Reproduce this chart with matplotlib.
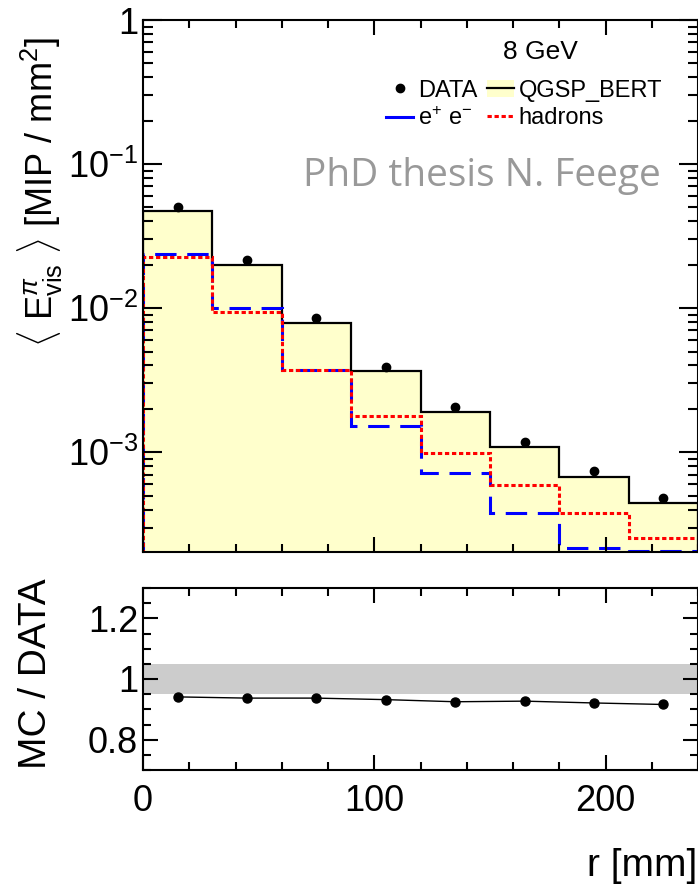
import numpy as np
import matplotlib
matplotlib.use("Agg")
import matplotlib.pyplot as plt
from matplotlib.lines import Line2D
from matplotlib.patches import Patch
from matplotlib.ticker import MultipleLocator, LogLocator, FuncFormatter, NullFormatter

plt.rcParams['font.family'] = ['Liberation Sans', 'DejaVu Sans']
plt.rcParams['mathtext.fontset'] = 'custom'
plt.rcParams['mathtext.rm'] = 'Liberation Sans'
plt.rcParams['mathtext.it'] = 'Liberation Sans:italic'

# radial bins [mm]
bin_edges = [0, 30, 60, 90, 120, 150, 180, 210, 240]
bin_centers = [15, 45, 75, 105, 135, 165, 195, 225]

# <E_vis> [MIP / mm^2], 8 GeV pions
data_vals = [0.0503, 0.0216, 0.00857, 0.00392, 0.00205, 0.00118, 0.000741, 0.000485]
qgsp_total = [0.0472, 0.0200, 0.00786, 0.00365, 0.00189, 0.00108, 0.000676, 0.000444]
qgsp_em = [0.0239, 0.0100, 0.00375, 0.00153, 0.000718, 0.000381, 0.000217, 0.000206]
qgsp_had = [0.0225, 0.00938, 0.00375, 0.00179, 0.000984, 0.000591, 0.000381, 0.000255]

# MC / DATA
ratio_vals = [0.941, 0.937, 0.937, 0.932, 0.925, 0.927, 0.921, 0.916]
band_lo, band_hi = 0.95, 1.05

W, H = 698, 893
fig = plt.figure(figsize=(W / 100, H / 100), dpi=100)
ax1 = fig.add_axes([143 / W, 1 - 552 / H, 555 / W, 532 / H])
ax2 = fig.add_axes([143 / W, 1 - 770 / H, 555 / W, 182 / H])

ymin = 2.03e-4
base = 1e-6

# top panel
ax1.stairs(qgsp_total, bin_edges, baseline=base, fill=True, color='#ffffcc', lw=0)
ax1.stairs(qgsp_total, bin_edges, baseline=base, color='black', lw=1.6)
ax1.stairs(qgsp_em, bin_edges, baseline=base, color='#0000ff', lw=2.2,
           linestyle=(0, (7, 3.5)))
ax1.stairs(qgsp_had, bin_edges, baseline=base, color='#ff0000', lw=2.2,
           linestyle=(0, (1.4, 0.9)))
ax1.plot(bin_centers, data_vals, 'o', color='black', ms=6)

ax1.set_yscale('log')
ax1.set_xlim(0, 240)
ax1.set_ylim(ymin, 1)
ax1.yaxis.set_major_locator(LogLocator(base=10, numticks=10))
ax1.yaxis.set_minor_locator(LogLocator(base=10, subs=np.arange(2, 10), numticks=20))
ax1.yaxis.set_major_formatter(FuncFormatter(
    lambda v, p: '1' if abs(v - 1) < 1e-9 else r'$10^{%d}$' % round(np.log10(v))))
ax1.yaxis.set_minor_formatter(NullFormatter())
ax1.xaxis.set_major_locator(MultipleLocator(100))
ax1.xaxis.set_minor_locator(MultipleLocator(20))
ax1.tick_params(axis='x', labelbottom=False)

h_data = Line2D([], [], marker='o', ls='none', color='black', ms=6)
h_mc = (Patch(facecolor='#ffffcc', edgecolor='none'), Line2D([], [], color='black', lw=1.6))
h_em = Line2D([], [], color='#0000ff', lw=2.2)
h_had = Line2D([], [], color='#ff0000', lw=2.2, linestyle=(0, (1.4, 0.9)))
ax1.legend([h_data, h_em, h_mc, h_had],
           ['DATA', r'e$^{+}$ e$^{-}$', 'QGSP_BERT', 'hadrons'],
           ncol=2, frameon=False, fontsize=17, loc='upper left',
           bbox_to_anchor=(0.438, 0.888), borderpad=0, borderaxespad=0,
           handlelength=1.15, handletextpad=0.2, columnspacing=0.4,
           labelspacing=0.25)
ax1.text(0.716, 0.94, '8 GeV', transform=ax1.transAxes, fontsize=19,
         ha='center', va='center')
ax1.text(0.61, 0.707, 'PhD thesis N. Feege', transform=ax1.transAxes,
         fontsize=28, color='#999999', ha='center', va='center',
         family=['Open Sans', 'DejaVu Sans'])

# bottom panel
ax2.axhspan(band_lo, band_hi, color='#cccccc', lw=0)
ax2.plot(bin_centers, ratio_vals, '-o', color='black', lw=1, ms=6.5)
ax2.set_xlim(0, 240)
ax2.set_ylim(0.7, 1.3)
ax2.set_yticks([0.8, 1.0, 1.2], ['0.8', '1', '1.2'])
ax2.yaxis.set_minor_locator(MultipleLocator(0.05))
ax2.xaxis.set_major_locator(MultipleLocator(100))
ax2.xaxis.set_minor_locator(MultipleLocator(20))

for ax in (ax1, ax2):
    for s in ax.spines.values():
        s.set_linewidth(1.5)
    ax.tick_params(which='both', direction='in', top=True, right=True,
                   labelsize=26, width=1.5)
    ax.tick_params(which='minor', length=6)
ax1.tick_params(axis='y', which='major', length=14)
ax1.tick_params(axis='y', which='minor', length=7)
ax1.tick_params(axis='x', which='major', length=11)
ax2.tick_params(axis='both', which='major', length=11)
ax2.tick_params(axis='x', pad=10)

fig.text(40 / W, 1 - 192 / H,
         r'$\langle\ \mathrm{E}^{\pi}_{\rm vis}\ \rangle$ [MIP / mm$^{2}$]',
         rotation=90, ha='center', va='center', fontsize=26)
fig.text(36 / W, 1 - 674 / H, 'MC / DATA', rotation=90,
         ha='center', va='center', fontsize=28)
fig.text(697 / W, 1 - 866 / H, 'r [mm]', ha='right', va='center', fontsize=28)

fig.savefig('out.png', dpi=100)
